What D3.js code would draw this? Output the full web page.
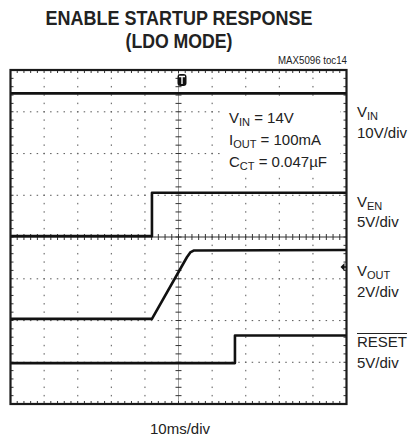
<!DOCTYPE html>
<html><head><meta charset="utf-8">
<script src="https://cdn.jsdelivr.net/npm/d3@7"></script>
<style>
body{margin:0;background:#fff}
text{font-family:"Liberation Sans",Arial,Helvetica,sans-serif;fill:#222}
</style>
</head><body>
<svg id="c" width="408" height="441"></svg>
<script>
// ---- data ----
const timeDomain = [-50, 50];           // ms (10ms/div, 10 divisions)
const voltDivs = [0, 8];                // 8 vertical divisions
const channelNames = ["VIN", "VEN", "VOUT", "RESET"];
const channelVoltsPerDiv = [10, 5, 2, 5];
const channelGroundDiv = [6.04, 4.02, 2.04, 0.98];
const vinSeries   = [[-50, 14], [50, 14]];
const venSeries   = [[-50, 0], [-7.9, 0], [-7.9, 5.2], [50, 5.2]];
const voutSeries  = [[-50, 0], [-7.9, 0], [2.5, 2.95], [3.5, 3.18], [4.5, 3.27], [50, 3.3]];
const resetSeries = [[-50, 0], [16.8, 0], [16.8, 3.3], [50, 3.3]];
const titleLines = ["ENABLE STARTUP RESPONSE", "(LDO MODE)"];
const noteText = "MAX5096 toc14";
const timeLabel = "10ms/div";
const condLines = [["V","IN"," = 14V"],["I","OUT"," = 100mA"],["C","CT"," = 0.047µF"]];
const chanLabels = [["V","IN","10V/div"],["V","EN","5V/div"],["V","OUT","2V/div"],["RESET","","5V/div"]];

// ---- layout ----
const svg = d3.select("#c");
const L = 10.5, R = 346.5, T = 70, B = 404;
const x = d3.scaleLinear().domain(timeDomain).range([L, R]);
const xd = d3.scaleLinear().domain([0, 10]).range([L, R]);
const yd = d3.scaleLinear().domain(voltDivs).range([B, T]);

// title
const tl = [267, 107];
titleLines.forEach((s, i) => {
  svg.append("text").attr("x", 179).attr("y", 25 + i * 23)
    .attr("text-anchor", "middle").attr("font-size", 21).attr("font-weight", "bold")
    .attr("textLength", tl[i]).attr("lengthAdjust", "spacingAndGlyphs").text(s);
});
svg.append("text").attr("x", 347).attr("y", 64).attr("text-anchor", "end")
  .attr("font-size", 10).attr("textLength", 69).attr("lengthAdjust","spacingAndGlyphs").text(noteText);

const g = svg.append("g");
// dotted grid
const minorX = d3.range(0, 50.001, 1).map(d => d / 5);
const minorY = d3.range(0, 40.001, 1).map(d => d / 5);
const dotCol = "#666";
d3.range(1, 10).filter(i => i !== 5).forEach(i => {
  g.selectAll(null).data(minorY.slice(1, -1)).enter().append("rect")
    .attr("x", xd(i) - 0.5).attr("y", d => yd(d) - 0.75).attr("width", 1.1).attr("height", 1.5).attr("fill", dotCol);
});
d3.range(1, 8).filter(i => i !== 4).forEach(i => {
  g.selectAll(null).data(minorX.slice(1, -1)).enter().append("rect")
    .attr("x", d => xd(d) - 0.75).attr("y", yd(i) - 0.5).attr("width", 1.5).attr("height", 1.1).attr("fill", dotCol);
});
// center axes
g.append("line").attr("x1", xd(5)).attr("x2", xd(5)).attr("y1", T).attr("y2", B).attr("stroke", "#888").attr("stroke-width", 0.8);
g.append("line").attr("x1", L).attr("x2", R).attr("y1", yd(4)).attr("y2", yd(4)).attr("stroke", "#333").attr("stroke-width", 1);
g.selectAll(null).data(minorY.slice(1, -1)).enter().append("line")
  .attr("x1", xd(5) - 3).attr("x2", xd(5) + 3).attr("y1", d => yd(d)).attr("y2", d => yd(d)).attr("stroke", "#333").attr("stroke-width", 1);
g.selectAll(null).data(minorX.slice(1, -1)).enter().append("line")
  .attr("y1", yd(4) - 3).attr("y2", yd(4) + 3).attr("x1", d => xd(d)).attr("x2", d => xd(d)).attr("stroke", "#333").attr("stroke-width", 1);
// border ticks
g.selectAll(null).data(minorX.slice(1, -1)).enter().append("line")
  .attr("x1", d => xd(d)).attr("x2", d => xd(d)).attr("y1", B).attr("y2", B - 3).attr("stroke", "#333");
g.selectAll(null).data(minorX.slice(1, -1)).enter().append("line")
  .attr("x1", d => xd(d)).attr("x2", d => xd(d)).attr("y1", T).attr("y2", T + 3).attr("stroke", "#333");
g.selectAll(null).data(minorY.slice(1, -1)).enter().append("line")
  .attr("y1", d => yd(d)).attr("y2", d => yd(d)).attr("x1", L).attr("x2", L + 3).attr("stroke", "#333");
g.selectAll(null).data(minorY.slice(1, -1)).enter().append("line")
  .attr("y1", d => yd(d)).attr("y2", d => yd(d)).attr("x1", R).attr("x2", R - 3).attr("stroke", "#333");

// condition text box
g.append("rect").attr("x", 222).attr("y", 101).attr("width", 118).attr("height", 74).attr("fill", "#fff");
condLines.forEach((c, i) => {
  const t = g.append("text").attr("x", 229).attr("y", 123 + i * 22).attr("font-size", 15);
  t.append("tspan").text(c[0]);
  t.append("tspan").attr("font-size", 11).attr("dy", 3).text(c[1]);
  t.append("tspan").attr("dy", -3).text(c[2]);
});

// traces
const series = [vinSeries, venSeries, voutSeries, resetSeries];
series.forEach((s, ci) => {
  const line = d3.line().x(d => x(d[0])).y(d => yd(channelGroundDiv[ci] + d[1] / channelVoltsPerDiv[ci]));
  g.append("path").attr("d", line(s)).attr("fill", "none").attr("stroke", "#111")
    .attr("stroke-width", 2.6).attr("stroke-linejoin", "round");
});

// frame
svg.append("rect").attr("x", L).attr("y", T).attr("width", R - L).attr("height", B - T)
  .attr("fill", "none").attr("stroke", "#1a1a1a").attr("stroke-width", 2.2);

// trigger marker
const mx = 182;
svg.append("rect").attr("x", mx - 4.5).attr("y", 74).attr("width", 9).attr("height", 12).attr("rx", 3).attr("fill", "#111");
svg.append("path").attr("d", `M${mx-3},76.5H${mx+3}M${mx},76.5V84`).attr("stroke", "#fff").attr("stroke-width", 1.4);
// right ground marker
const my = 267;
svg.append("path").attr("d", `M${R-6},${my}L${R-2},${my-4}L${R-2},${my+4}Z`).attr("fill", "#111");
svg.append("line").attr("x1", R - 3).attr("x2", R).attr("y1", my).attr("y2", my).attr("stroke", "#111").attr("stroke-width", 1.5);

// channel labels
const labY = [[117, 138], [207, 227], [276, 297], [347, 368]];
chanLabels.forEach((c, i) => {
  const t = svg.append("text").attr("x", 357).attr("y", labY[i][0]).attr("font-size", 15);
  t.append("tspan").text(c[0]);
  if (c[1]) t.append("tspan").attr("font-size", 11).attr("dy", 3).text(c[1]);
  svg.append("text").attr("x", 357).attr("y", labY[i][1]).attr("font-size", 15).text(c[2]);
  if (c[0] === "RESET") {
    const w = t.node().getComputedTextLength();
    svg.append("line").attr("x1", 357).attr("x2", 357 + w).attr("y1", labY[i][0] - 13.5).attr("y2", labY[i][0] - 13.5)
      .attr("stroke", "#222").attr("stroke-width", 1);
  }
});

svg.append("text").attr("x", 180).attr("y", 434).attr("text-anchor", "middle").attr("font-size", 15).text(timeLabel);
</script>
</body></html>
